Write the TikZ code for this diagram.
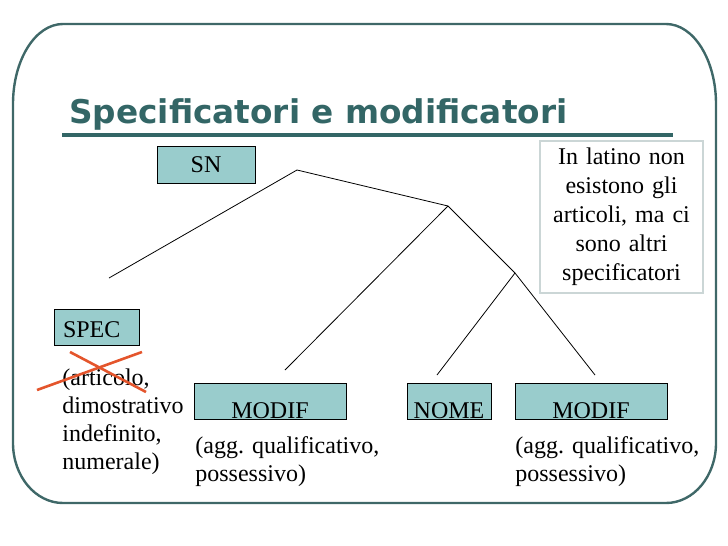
\documentclass[tikz,border=0pt]{standalone}
\usepackage{fontspec}
\setmainfont{Liberation Serif}
\newfontfamily\titlefont{DejaVu Sans}
\usetikzlibrary{positioning}
\definecolor{skFrame}{HTML}{3F6868}
\definecolor{skTitle}{HTML}{336666}
\definecolor{skBox}{HTML}{99CCCC}
\definecolor{skNote}{HTML}{CBD6D6}
\definecolor{skCross}{HTML}{E4552C}
\tikzset{
  sk/.style={x=1pt, y=-1pt, font=\fontsize{24}{28}\selectfont, line width=.8pt},
  frame/.style={draw=skFrame, line width=2.4pt},
  ttl/.style={anchor=base west, inner sep=0pt, text=skTitle, font=\titlefont\bfseries\fontsize{32.7}{36}\selectfont},
  rule/.style={draw=skTitle, line width=4pt},
  box/.style={draw=black, fill=skBox, line width=.9pt, inner ysep=0pt, inner xsep=0pt, align=center},
  note/.style={draw=skNote, fill=white, line width=2pt, align=center, text width=150pt,
    minimum width=163pt, minimum height=152pt, font=\fontsize{24}{29}\selectfont},
  gloss/.style={anchor=north west, inner sep=0pt, align=left},
  branch/.style={draw=black, line width=.8pt},
  crossout/.style={draw=skCross, line width=2.6pt},
}
\begin{document}
\begin{tikzpicture}[sk]
\useasboundingbox (0,0) rectangle (728,546);

% slide frame
\draw[frame] (63,24) -- (666,24) arc[start angle=-90, end angle=0, x radius=50, y radius=80]
  -- (716,443) arc[start angle=0, end angle=90, x radius=50, y radius=60]
  -- (63,503) arc[start angle=90, end angle=180, x radius=50, y radius=60]
  -- (13,104) arc[start angle=180, end angle=270, x radius=50, y radius=80] -- cycle;

\node[ttl] (title) at (69,123) {Specificatori e modificatori};
\draw[rule] (62,135) -- (673,135);

% tree nodes
\node[box, minimum width=98pt, text height=26pt, text depth=11pt] (sn) at (206,164.5) {SN};
\node[box, text width=67pt, inner xsep=9pt, align=left, text height=28pt, text depth=8pt] (spec) at (96.5,327) {SPEC};
\node[box, minimum width=152pt, text height=35pt, text depth=1pt] (modifA) at (270,401) {MODIF};
\node[box, minimum width=84pt, text height=35pt, text depth=1pt] (nome) at (449,401) {NOME};
\node[box, minimum width=152pt, text height=35pt, text depth=1pt] (modifB) at (591,401) {MODIF};

\node[note] (nota) at (621.5,217) {In latino non\\esistono gli\\articoli, ma ci\\sono altri\\specificatori};

% glosses
\node[gloss] (glossSpec) at (62,368.5) {(articolo,\\dimostrativo\\indefinito,\\numerale)};
\node[gloss] (glossA) at (195,436.5) {(agg. qualificativo,\\possessivo)};
\node[gloss] (glossB) at (515,436.5) {(agg. qualificativo,\\possessivo)};

% branches
\coordinate (root) at (297,170);
\coordinate (n1) at (448,206);
\coordinate (n2) at (515,273);
\coordinate (eSpec) at (109,278);
\coordinate (eModifA) at (285,370);
\coordinate (eNome) at (437,375);
\coordinate (eModifB) at (595,375);
\foreach \a/\b in {root/eSpec, root/n1, n1/eModifA, n1/n2, n2/eNome, n2/eModifB}
  \draw[branch] (\a) -- (\b);

% crossed out
\coordinate (xA) at (70,352);
\coordinate (xB) at (146,392);
\coordinate (xC) at (37,390);
\coordinate (xD) at (142,352);
\draw[crossout] (xA) -- (xB);
\draw[crossout] (xC) -- (xD);
\end{tikzpicture}
\end{document}
